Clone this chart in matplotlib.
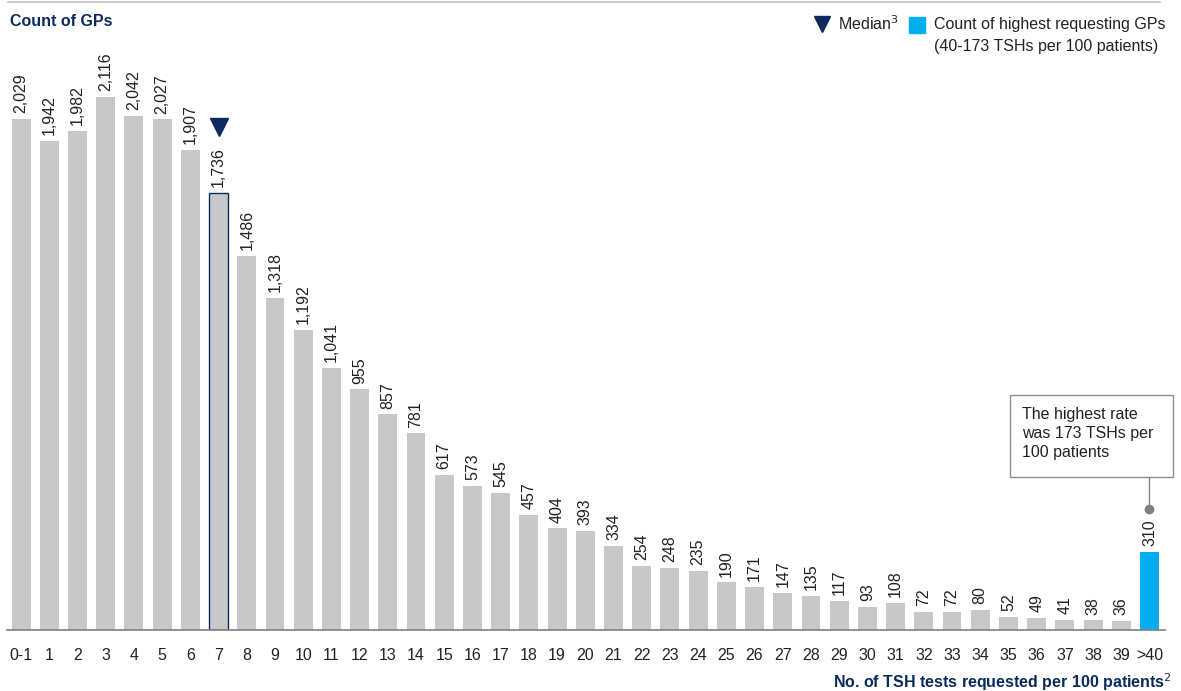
import matplotlib.pyplot as plt
from matplotlib.lines import Line2D
from matplotlib.patches import Rectangle
import numpy as np

plt.rcParams['font.family'] = ['Liberation Sans', 'DejaVu Sans']

categories = ['0-1'] + [str(i) for i in range(1, 40)] + ['>40']
counts = [2029, 1942, 1982, 2116, 2042, 2027, 1907, 1736, 1486, 1318,
          1192, 1041, 955, 857, 781, 617, 573, 545, 457, 404,
          393, 334, 254, 248, 235, 190, 171, 147, 135, 117,
          93, 108, 72, 72, 80, 52, 49, 41, 38, 36, 310]
median_idx = 7

GREY = '#c8c8c8'
BLUE = '#00aeef'
NAVY = '#0b2b5e'
TXT = '#222222'
FS = 11.5

fig = plt.figure(figsize=(11.81, 6.91), dpi=100)
W, H = 1181, 691
base_px, top_px = 630, 10
ymax = 2116 * (base_px - top_px) / (base_px - 97)
ax = fig.add_axes([7 / W, (H - base_px) / H, (1165 - 7) / W, (base_px - top_px) / H])

x = np.arange(len(categories))
colors = [GREY] * len(categories)
colors[-1] = BLUE
bars = ax.bar(x, counts, width=0.67, color=colors, linewidth=0)
bars[median_idx].set_edgecolor(NAVY)
bars[median_idx].set_linewidth(1.0)

ax.set_xlim(-0.5, len(categories) - 0.45)
ax.set_ylim(0, ymax)
for s in ['top', 'right', 'left']:
    ax.spines[s].set_visible(False)
ax.spines['bottom'].set_color('#808080')
ax.spines['bottom'].set_linewidth(1.2)
ax.set_yticks([])
ax.set_xticks(x)
ax.set_xticklabels(categories, fontsize=FS, color=TXT)
ax.tick_params(axis='x', length=0, pad=13)

for xi, v in zip(x, counts):
    ax.annotate(f'{v:,}', (xi, v), xytext=(0, 4), textcoords='offset points',
                rotation=90, ha='center', va='bottom', fontsize=FS, color=TXT)

# median marker
ax.plot(median_idx, counts[median_idx] + 260, marker='v', markersize=13,
        color=NAVY, clip_on=False)

# callout for highest rate
last = len(categories) - 1
box_x0, box_x1, box_y0, box_y1 = 35.07, 40.85, 607, 933
ax.add_patch(Rectangle((box_x0, box_y0), box_x1 - box_x0, box_y1 - box_y0,
                       fc='white', ec='#909090', lw=1, clip_on=False))
ax.text(box_x0 + 0.4, (box_y0 + box_y1) / 2 + 10,
        'The highest rate\nwas 173 TSHs per\n100 patients',
        fontsize=FS, color=TXT, va='center', ha='left', linespacing=1.3)
ax.plot([last, last], [480, box_y0], color='#808080', lw=1)
ax.plot(last, 480, 'o', color='#808080', markersize=6)

# top rule
fig.add_artist(Line2D([8 / W, 1160 / W], [1 - 1.5 / H, 1 - 1.5 / H], color='#c0c0c0', lw=1.2))

fig.text(10 / W, 1 - 22 / H, 'Count of GPs', fontsize=FS, fontweight='bold',
         color=NAVY, va='center', ha='left')
fig.text(1172 / W, 1 - 682 / H, 'No. of TSH tests requested per 100 patients$^{2}$',
         fontsize=FS, fontweight='bold', color=NAVY, va='center', ha='right')

# legend
fig.add_artist(Line2D([822 / W], [1 - 24 / H], marker='v', markersize=12, color=NAVY))
fig.text(838 / W, 1 - 24 / H, 'Median$^{3}$', fontsize=FS, color=TXT, va='center')
fig.add_artist(Line2D([917 / W], [1 - 25 / H], marker='s', markersize=11, color=BLUE))
fig.text(934 / W, 1 - 24 / H, 'Count of highest requesting GPs', fontsize=FS,
         color=TXT, va='center')
fig.text(934 / W, 1 - 46 / H, '(40-173 TSHs per 100 patients)', fontsize=FS,
         color=TXT, va='center')

fig.savefig('out.png', dpi=100)
